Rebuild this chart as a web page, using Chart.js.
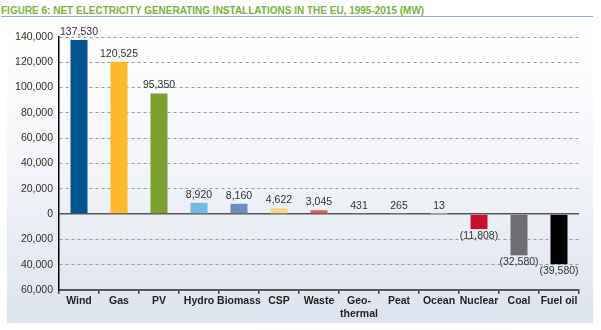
<!DOCTYPE html>
<html>
<head>
<meta charset="utf-8">
<script src="https://cdn.jsdelivr.net/npm/chart.js@4"></script>
<style>
  body { margin: 0; background: #fff; }
  #wrap { position: relative; width: 601px; height: 330px; overflow: hidden; }
  #title {
    position: absolute; left: 1px; top: 5px; width: 592px;
    font: bold 10px 'Liberation Sans Narrow', 'Arial Narrow', sans-serif;
    color: #7cb33a; line-height: 11px;
    border-bottom: 1px solid #8fb0dc; padding-bottom: 0px;
  }
  #panel {
    position: absolute; left: 7px; top: 22px; width: 586px; height: 301px;
    background: linear-gradient(#ffffff, #f4f6fa 45%, #dce3ee);
  }
  canvas { position: absolute; left: 0; top: 0; }
</style>
</head>
<body>
<div id="wrap">
  <div id="title">FIGURE 6: NET ELECTRICITY GENERATING INSTALLATIONS IN THE EU, 1995-2015 (MW)</div>
  <div id="panel"></div>
  <canvas id="net-installations" width="601" height="330"></canvas>
</div>
<script>
var categories = ['Wind', 'Gas', 'PV', 'Hydro', 'Biomass', 'CSP', 'Waste', ['Geo-', 'thermal'],
                  'Peat', 'Ocean', 'Nuclear', 'Coal', 'Fuel oil'];
var netMW = [137530, 120525, 95350, 8920, 8160, 4622, 3045, 431, 265, 13, -11808, -32580, -39580];
var barColours = ['#02558f', '#fdb92c', '#7aa130', '#74b9e6', '#6c8dbd', '#fbd38a', '#d6645a',
                  '#8e95b8', '#8aa052', '#c9cf8c', '#c8102e', '#6d6e71', '#000000'];
var yMin = -60000;
var yMax = 140000;
var yStep = 20000;

function fmt(v) {
    return v.toLocaleString('en-US');
}

// value above positive bars, bracketed value under negative ones
var valueLabels = {
    id: 'valueLabels',
    afterDatasetsDraw: function (chart) {
        var ctx = chart.ctx;
        var meta = chart.getDatasetMeta(0);
        ctx.save();
        ctx.font = '10.5px "Liberation Sans", Arial, sans-serif';
        ctx.fillStyle = '#333333';
        ctx.textAlign = 'center';
        meta.data.forEach(function (bar, i) {
            var v = netMW[i];
            if (v < 0) {
                ctx.textBaseline = 'top';
                ctx.fillText('(' + fmt(-v) + ')', bar.x, bar.y + 2);
            } else {
                ctx.textBaseline = 'alphabetic';
                ctx.fillText(fmt(v), bar.x, bar.y - 5);
            }
        });
        ctx.restore();
    }
};

var ctx = document.getElementById('net-installations').getContext('2d');
var chart = new Chart(ctx, {
    type: 'bar',
    data: {
        labels: categories,
        datasets: [{
            data: netMW,
            backgroundColor: barColours,
            borderWidth: 0,
            barPercentage: 0.425,
            categoryPercentage: 1
        }]
    },
    options: {
        responsive: false,
        animation: false,
        layout: { padding: { left: 0, right: 22, top: 37, bottom: 10 } },
        plugins: {
            legend: { display: false },
            tooltip: { enabled: false }
        },
        scales: {
            x: {
                afterFit: function (scale) { scale.height = 30; },
                grid: {
                    drawOnChartArea: false,
                    drawTicks: true,
                    tickLength: 4,
                    color: '#444444',
                    lineWidth: 1.5
                },
                border: { color: '#555555', width: 2 },
                ticks: {
                    padding: 1,
                    color: '#222222',
                    font: { family: "'Liberation Sans Narrow', 'Arial Narrow', sans-serif", size: 10.5, weight: 'bold', lineHeight: 1.2 },
                    maxRotation: 0,
                    autoSkip: false
                }
            },
            y: {
                min: yMin,
                max: yMax,
                afterFit: function (scale) { scale.width = 59; },
                ticks: {
                    stepSize: yStep,
                    padding: 6,
                    color: '#3a2e22',
                    font: { family: "'Liberation Sans', Arial, sans-serif", size: 10.5 },
                    callback: function (value) { return fmt(Math.abs(value)); }
                },
                grid: {
                    drawTicks: false,
                    color: function (c) {
                        if (c.tick && c.tick.value === 0) return '#555555';
                        if (c.tick && c.tick.value === yMin) return 'rgba(0,0,0,0)';
                        return '#9a9a9a';
                    },
                    lineWidth: function (c) {
                        return c.tick && c.tick.value === 0 ? 1.5 : 1;
                    }
                },
                border: {
                    color: '#000000',
                    width: 1.5,
                    dash: function (c) {
                        return c.tick && c.tick.value === 0 ? [] : [3, 3];
                    }
                }
            }
        }
    },
    plugins: [valueLabels]
});
</script>
</body>
</html>
